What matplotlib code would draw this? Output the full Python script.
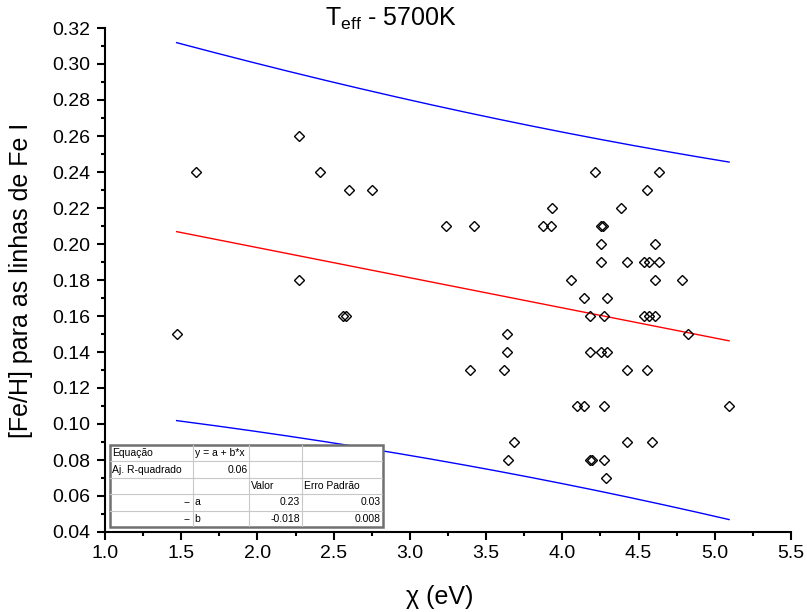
import numpy as np
import matplotlib
matplotlib.use("Agg")
import matplotlib.pyplot as plt
from matplotlib.ticker import MultipleLocator, FormatStrFormatter
from matplotlib.patches import Rectangle

plt.rcParams['font.family'] = ['Liberation Sans', 'DejaVu Sans']
plt.rcParams['mathtext.fontset'] = 'custom'
plt.rcParams['mathtext.rm'] = 'Liberation Sans'
plt.rcParams['mathtext.it'] = 'Liberation Sans'

# excitation potential (eV) and [Fe/H] for each Fe I line
chi = [1.47, 1.60, 2.27, 2.27, 2.41, 2.60, 2.75, 2.56, 2.58, 3.24,
       3.42, 3.395, 3.62, 3.634, 3.634, 3.644, 3.684, 3.87, 3.925, 3.93,
       4.06, 4.093, 4.215, 4.633, 4.554, 4.383, 4.253, 4.270, 4.253, 4.605,
       4.253, 4.425, 4.537, 4.570, 4.633, 4.605, 4.786, 4.14, 4.294, 4.182,
       4.274, 4.537, 4.570, 4.605, 4.823, 4.182, 4.253, 4.294, 4.425, 4.554,
       4.14, 4.274, 5.094, 4.425, 4.585, 4.182, 4.197, 4.274, 4.285]
feh = [0.15, 0.24, 0.26, 0.18, 0.24, 0.23, 0.23, 0.16, 0.16, 0.21,
       0.21, 0.13, 0.13, 0.14, 0.15, 0.08, 0.09, 0.21, 0.21, 0.22,
       0.18, 0.11, 0.24, 0.24, 0.23, 0.22, 0.21, 0.21, 0.20, 0.20,
       0.19, 0.19, 0.19, 0.19, 0.19, 0.18, 0.18, 0.17, 0.17, 0.16,
       0.16, 0.16, 0.16, 0.16, 0.15, 0.14, 0.14, 0.14, 0.13, 0.13,
       0.11, 0.11, 0.11, 0.09, 0.09, 0.08, 0.08, 0.08, 0.07]

table_rows = [
    ["Equação", "y = a + b*x", "", ""],
    ["Aj. R-quadrado", "0.06", "", ""],
    ["", "", "Valor", "Erro Padrão"],
    ["--", "a", "0.23", "0.03"],
    ["--", "b", "-0.018", "0.008"],
]
table_align = [
    ["left", "left", "left", "left"],
    ["left", "right", "left", "left"],
    ["left", "left", "left", "left"],
    ["right", "left", "right", "right"],
    ["right", "left", "right", "right"],
]
t975 = 2.002  # student t, 95%, n-2 dof

x = np.array(chi)
y = np.array(feh)
n = len(x)
b, a = np.polyfit(x, y, 1)
res = y - (a + b * x)
s = np.sqrt(np.sum(res ** 2) / (n - 2))
sxx = np.sum((x - x.mean()) ** 2)
xf = np.linspace(x.min(), x.max(), 200)
yf = a + b * xf
half = t975 * s * np.sqrt(1 + 1 / n + (xf - x.mean()) ** 2 / sxx)

fig = plt.figure(figsize=(8.07, 6.12), dpi=100)
ax = fig.add_axes([105 / 807, 1 - 532 / 612, 686 / 807, 504 / 612])

ax.plot(xf, yf, color='#ff0000', lw=1.0)
ax.plot(xf, yf + half, color='#0000ff', lw=1.0)
ax.plot(xf, yf - half, color='#0000ff', lw=1.0)
ax.plot(x, y, 'D', ms=5, mfc='none', mec='black', mew=1.0)

ax.set_xlim(1.0, 5.5)
ax.set_ylim(0.04, 0.32)
ax.xaxis.set_major_locator(MultipleLocator(0.5))
ax.xaxis.set_minor_locator(MultipleLocator(0.25))
ax.yaxis.set_major_locator(MultipleLocator(0.02))
ax.yaxis.set_minor_locator(MultipleLocator(0.01))
ax.xaxis.set_major_formatter(FormatStrFormatter('%.1f'))
ax.yaxis.set_major_formatter(FormatStrFormatter('%.2f'))
for sp in ['top', 'right']:
    ax.spines[sp].set_visible(False)
for sp in ['left', 'bottom']:
    ax.spines[sp].set_linewidth(1.5)
ax.tick_params(which='major', direction='out', length=5.5, width=1.5, labelsize=14, pad=4)
ax.tick_params(which='minor', direction='out', length=3, width=1.5)
ax.tick_params(axis='y', pad=5)

ax.set_xlabel('χ (eV)', fontsize=18)
ax.set_ylabel('[Fe/H] para as linhas de Fe I', fontsize=18)
ax.xaxis.set_label_coords(0.488, -0.105)
ax.yaxis.set_label_coords(-0.105, 0.5)
fig.text(391 / 807, 1 - 19 / 612, r'$\mathrm{T_{eff}}$ - 5700K', fontsize=18,
         ha='center', va='center')

# fit summary table
tx0, ty0, tx1, ty1 = 110, 445, 383, 527
col_edges = [110, 192.7, 249.3, 301.7, 383]
tax = fig.add_axes([tx0 / 807, 1 - ty1 / 612, (tx1 - tx0) / 807, (ty1 - ty0) / 612])
tax.set_xlim(tx0, tx1)
tax.set_ylim(ty1, ty0)
tax.axis('off')
tax.add_patch(Rectangle((tx0, ty0), tx1 - tx0, ty1 - ty0, facecolor='white',
                        edgecolor='#707070', lw=1.8, clip_on=False))
nrow = len(table_rows)
rh = (ty1 - ty0) / nrow
for i in range(1, nrow):
    tax.plot([tx0, tx1], [ty0 + i * rh] * 2, color='#c8c8c8', lw=0.8)
for ce in col_edges[1:-1]:
    tax.plot([ce, ce], [ty0, ty1], color='#c8c8c8', lw=0.8)
for i, row in enumerate(table_rows):
    for j, txt in enumerate(row):
        if not txt:
            continue
        if table_align[i][j] == 'right':
            xp, ha = col_edges[j + 1] - 2, 'right'
        else:
            xp, ha = col_edges[j] + 2, 'left'
        tax.text(xp, ty0 + (i + 0.5) * rh, txt, fontsize=7.5, ha=ha, va='center')

fig.savefig('out.png', dpi=100)
